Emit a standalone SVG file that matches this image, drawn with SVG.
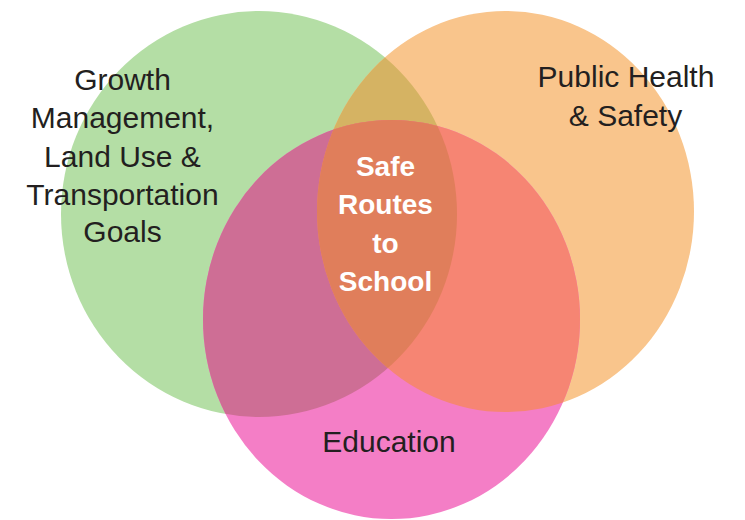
<svg xmlns="http://www.w3.org/2000/svg" xmlns:xlink="http://www.w3.org/1999/xlink" width="745" height="520" viewBox="0 0 745 520">
<style>
.lbl{font-family:"Liberation Sans",Arial,sans-serif;font-size:30px;fill:#231f20;text-anchor:middle}
.ctr{font-family:"Liberation Sans",Arial,sans-serif;font-size:28px;font-weight:bold;fill:#ffffff;text-anchor:middle}
</style>
<defs>
<ellipse id="eG" cx="259" cy="214" rx="198" ry="203"/>
<ellipse id="eO" cx="505.5" cy="211.5" rx="188.5" ry="200.5"/>
<ellipse id="eP" cx="391.5" cy="319.5" rx="188.5" ry="199.5"/>
<clipPath id="cG"><use xlink:href="#eG"/></clipPath>
<clipPath id="cO"><use xlink:href="#eO"/></clipPath>
</defs>
<rect width="745" height="520" fill="#ffffff"/>
<g id="growth">
<use xlink:href="#eG" fill="#b4dea5"/>
</g>
<g id="health">
<use xlink:href="#eO" fill="#f9c58c"/>
</g>
<g id="education">
<use xlink:href="#eP" fill="#f47ec6"/>
</g>
<g id="overlaps">
<g clip-path="url(#cG)"><use xlink:href="#eO" fill="#d5b363"/><use xlink:href="#eP" fill="#ce6e95"/></g>
<g clip-path="url(#cO)"><use xlink:href="#eP" fill="#f68573"/></g>
<g clip-path="url(#cG)"><g clip-path="url(#cO)"><use xlink:href="#eP" fill="#e07e5b"/></g></g>
</g>
<g id="growth-label">
<text class="lbl" x="122.5" y="90">Growth</text>
<text class="lbl" x="122.5" y="128">Management,</text>
<text class="lbl" x="122.5" y="167">Land Use &amp;</text>
<text class="lbl" x="122.5" y="204.5">Transportation</text>
<text class="lbl" x="122.5" y="242">Goals</text>
</g>
<g id="health-label">
<text class="lbl" x="626" y="87">Public Health</text>
<text class="lbl" x="625.5" y="126">&amp; Safety</text>
</g>
<g id="education-label">
<text class="lbl" x="389" y="452">Education</text>
</g>
<g id="srts">
<text class="ctr" x="385.5" y="176">Safe</text>
<text class="ctr" x="385.5" y="214">Routes</text>
<text class="ctr" x="385.5" y="252.5">to</text>
<text class="ctr" x="385.5" y="291">School</text>
</g>
</svg>
